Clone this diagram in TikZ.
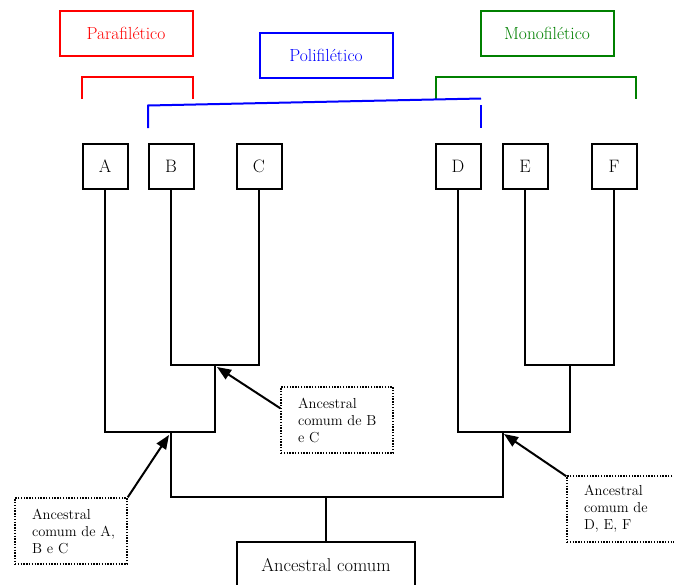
\documentclass[tikz,border=0pt]{standalone}
\usetikzlibrary{arrows.meta}
\definecolor{grpred}{RGB}{255,0,0}
\definecolor{grpblue}{RGB}{0,0,255}
\definecolor{grpgreen}{RGB}{0,128,0}
\begin{document}
\begin{tikzpicture}[x=1pt,y=-1pt,
  leaf/.style={draw, line width=2pt, minimum width=45pt, minimum height=45pt,
    inner sep=0pt, font=\fontsize{18}{20}\selectfont},
  group/.style={line width=2pt, minimum width=133pt, minimum height=45pt,
    inner sep=0pt, font=\fontsize{17.5}{20}\selectfont},
  note/.style={draw, dash pattern=on 1.4pt off 1.4pt, line width=1.5pt,
    text width=78pt, inner xsep=17pt, inner ysep=0pt, minimum height=66pt,
    align=left, font=\fontsize{14.5}{17}\selectfont},
  branch/.style={line width=2pt},
  ptr/.style={line width=2pt, -{Triangle[length=14pt,width=11pt]}},
  bracket/.style={line width=2pt}]
\useasboundingbox (0,0) rectangle (674,584);

% group labels
\node[group, draw=grpred, text=grpred] (para) at (126,33) {Parafilético};
\node[group, draw=grpblue, text=grpblue] (poli) at (326,55) {Polifilético};
\node[group, draw=grpgreen, text=grpgreen] (mono) at (547,33) {Monofilético};

% terminal taxa
\node[leaf] (A) at (105,166) {A};
\node[leaf] (B) at (171,166) {B};
\node[leaf] (C) at (259,166) {C};
\node[leaf] (D) at (458,166) {D};
\node[leaf] (E) at (525,166) {E};
\node[leaf] (F) at (614,166) {F};

% brackets over the groups
\coordinate (pL) at (82,99);
\coordinate (pR) at (193,99);
\draw[bracket, draw=grpred] (pL) -- (82,77) -- (193,77) -- (pR);
\coordinate (mL) at (436,99);
\coordinate (mR) at (636,99);
\draw[bracket, draw=grpgreen] (mL) -- (436,77) -- (636,77) -- (mR);
\coordinate (qL) at (148,128);
\coordinate (qT) at (481,98.5);
\draw[bracket, draw=grpblue] (qL) -- (148,105.5) -- (qT);
\coordinate (qR) at (481,128);
\draw[bracket, draw=grpblue] (481,105) -- (qR);

% internal nodes
\coordinate (nBC) at (215,365);
\coordinate (nABC) at (171,432);
\coordinate (nEF) at (570,365);
\coordinate (nDEF) at (503,432);
\coordinate (nRoot) at (326,497);

% root
\node[draw, line width=2pt, minimum width=178pt, minimum height=46pt,
  font=\fontsize{18.5}{20}\selectfont] (root) at (326,565) {Ancestral comum};

% branches
\draw[branch] (B.south) |- (nBC) -| (C.south);
\draw[branch] (A.south) |- (nBC |- nABC) -- (nBC);
\draw[branch] (E.south) |- (nEF) -| (F.south);
\draw[branch] (D.south) |- (nEF |- nDEF) -- (nEF);
\draw[branch] (nABC) |- (nRoot) -| (nDEF);
\draw[branch] (nRoot) -- (root.north);

% annotations
\node[note] (bcnote) at (337,420)
  {Ancestral\\\makebox[\linewidth][s]{comum de B}\\e C};
\node[note] (abcnote) at (71,531)
  {Ancestral\\\mbox{comum de A,}\\B e C};
\node[note] (defnote) at (623,509)
  {Ancestral\\\makebox[\linewidth][s]{comum de}\\D, E, F};

\draw[ptr] ([yshift=-22pt]bcnote.north west) -- ([shift={(2,2)}]nBC);
\draw[ptr] (abcnote.north east) -- ([shift={(-2,3)}]nABC);
\draw[ptr] ([yshift=-1pt]defnote.north west) -- ([shift={(1,2)}]nDEF);
\end{tikzpicture}
\end{document}
